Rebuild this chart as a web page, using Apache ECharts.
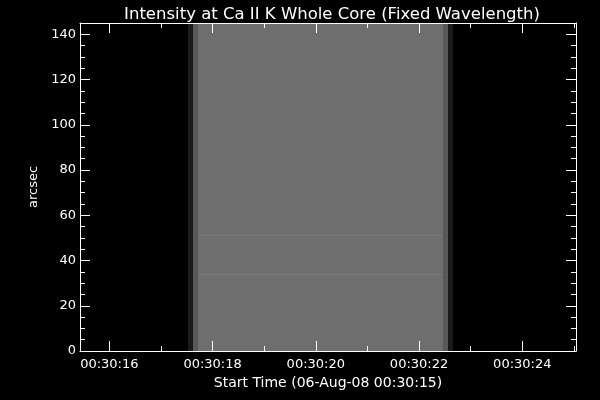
<!DOCTYPE html>
<html>
<head>
<meta charset="utf-8">
<script src="https://cdn.jsdelivr.net/npm/echarts@6/dist/echarts.min.js"></script>
<style>html,body{margin:0;padding:0;background:#000;}#chart{width:600px;height:400px;}</style>
</head>
<body>
<div id="chart"></div>
<script>
// Time axis: seconds after 00:30:00
const xMin = 15.432;
const xMax = 25.04;
const xMajorTicks = [16, 18, 20, 22, 24];
const xMinorTicks = [17, 19, 21, 23, 25];
const yMin = 0;
const yMax = 145;
const yMajorTicks = [0, 20, 40, 60, 80, 100, 120, 140];
const yMinorTicks = [5, 10, 15, 25, 30, 35, 45, 50, 55, 65, 70, 75, 85, 90, 95, 105, 110, 115, 125, 130, 135, 145];
// Image columns (time span) and grey intensity (0-255)
const colStart = [17.524, 17.621, 17.718, 22.464, 22.561];
const colEnd = [17.621, 17.718, 22.464, 22.561, 22.658];
const colIntensity = [27, 89, 110, 89, 27];
// Faint brighter rows across the image (arcsec)
const stripeRows = [33.6, 50.9, 96.9];
const stripeIntensity = [122, 124, 116];
const stripeHeight = 0.45;

const titleText = 'Intensity at Ca II K Whole Core (Fixed Wavelength)';
const xName = 'Start Time (06-Aug-08 00:30:15)';
const yName = 'arcsec';

function fmtTime(v) {
  const s = Math.round(v);
  return '00:30:' + String(s).padStart(2, '0');
}

const cells = [];
for (let i = 0; i < colStart.length; i++) {
  cells.push([colStart[i], colEnd[i], yMin, yMax, colIntensity[i]]);
}
for (let i = 0; i < stripeRows.length; i++) {
  cells.push([colStart[2], colEnd[2], stripeRows[i], stripeRows[i] + stripeHeight, stripeIntensity[i]]);
}

const FONT = 'DejaVu Sans';
const white = '#ffffff';

function xAx(pos, ticks, len, labels, line) {
  return {
    type: 'value', position: pos, min: xMin, max: xMax, z: 10,
    splitLine: {show: false},
    axisLine: {show: line, onZero: false, lineStyle: {color: white, width: 1}},
    axisTick: {show: true, inside: true, length: len, customValues: ticks, lineStyle: {color: white, width: 1}},
    axisLabel: labels ? {show: true, customValues: ticks, formatter: fmtTime, color: white, fontFamily: FONT, fontSize: 13, margin: 7} : {show: false}
  };
}
function yAx(pos, ticks, len, labels, line) {
  return {
    type: 'value', position: pos, min: yMin, max: yMax, z: 10,
    splitLine: {show: false},
    axisLine: {show: line, onZero: false, lineStyle: {color: white, width: 1}},
    axisTick: {show: true, inside: true, length: len, customValues: ticks, lineStyle: {color: white, width: 1}},
    axisLabel: labels ? {show: true, customValues: ticks, color: white, fontFamily: FONT, fontSize: 13, margin: 4} : {show: false}
  };
}

const xAxes = [
  xAx('bottom', xMajorTicks, 10, true, true),
  xAx('bottom', xMinorTicks, 5, false, false),
  xAx('top', xMajorTicks, 10, false, true),
  xAx('top', xMinorTicks, 5, false, false)
];
Object.assign(xAxes[0], {name: xName, nameLocation: 'middle', nameGap: 22, nameTextStyle: {color: white, fontFamily: FONT, fontSize: 14}});
const yAxes = [
  yAx('left', yMajorTicks, 10, true, true),
  yAx('left', yMinorTicks, 5, false, false),
  yAx('right', yMajorTicks, 10, false, true),
  yAx('right', yMinorTicks, 5, false, false)
];
Object.assign(yAxes[0], {name: yName, nameLocation: 'middle', nameGap: 32, nameTextStyle: {color: white, fontFamily: FONT, fontSize: 13}});

const chart = echarts.init(document.getElementById('chart'), null, {renderer: 'canvas'});
chart.setOption({
  backgroundColor: '#000000',
  animation: false,
  title: {
    text: titleText, left: 327, top: 1, textAlign: 'center',
    textStyle: {color: white, fontFamily: FONT, fontSize: 16.5, fontWeight: 'normal'}
  },
  grid: {left: 80, right: 24, top: 23, bottom: 49, containLabel: false},
  xAxis: xAxes,
  yAxis: yAxes,
  series: [{
    type: 'custom',
    xAxisIndex: 0, yAxisIndex: 0, z: 1,
    encode: {x: [0, 1], y: [2, 3]},
    data: cells,
    renderItem: function (params, api) {
      const p0 = api.coord([api.value(0), api.value(3)]);
      const p1 = api.coord([api.value(1), api.value(2)]);
      const v = api.value(4);
      return {
        type: 'rect',
        shape: {x: p0[0], y: p0[1], width: p1[0] - p0[0], height: p1[1] - p0[1]},
        style: {fill: 'rgb(' + v + ',' + v + ',' + v + ')'}
      };
    }
  }]
});
</script>
</body>
</html>
